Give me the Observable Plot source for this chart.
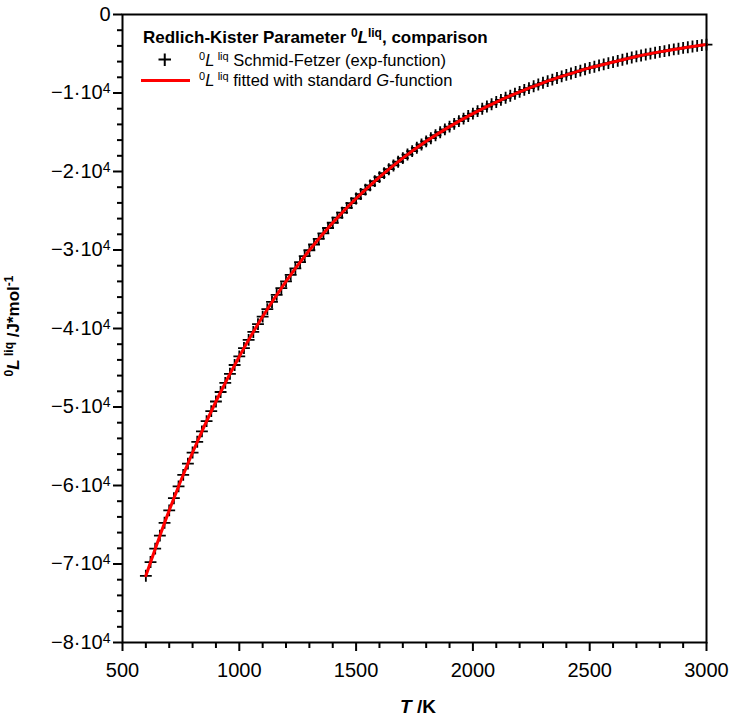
<!DOCTYPE html>
<html>
<head>
<meta charset="utf-8">
<script src="https://cdn.jsdelivr.net/npm/d3@7"></script>
<script src="https://cdn.jsdelivr.net/npm/@observablehq/plot@0.6"></script>
<style>
  html, body { margin: 0; padding: 0; background: #fff; }
  #chart { width: 729px; height: 716px; }
</style>
</head>
<body>
<div id="chart"></div>
<script>
// Temperatures of the Schmid-Fetzer (exp-function) points, K
const markerT = [
  600, 620, 640, 660, 680, 700, 720, 740, 760, 780,
  800, 820, 840, 860, 880, 900, 920, 940, 960, 980,
  1000, 1020, 1040, 1060, 1080, 1100, 1120, 1140, 1160, 1180,
  1200, 1220, 1240, 1260, 1280, 1300, 1320, 1340, 1360, 1380,
  1400, 1420, 1440, 1460, 1480, 1500, 1520, 1540, 1560, 1580,
  1600, 1620, 1640, 1660, 1680, 1700, 1720, 1740, 1760, 1780,
  1800, 1820, 1840, 1860, 1880, 1900, 1920, 1940, 1960, 1980,
  2000, 2020, 2040, 2060, 2080, 2100, 2120, 2140, 2160, 2180,
  2200, 2220, 2240, 2260, 2280, 2300, 2320, 2340, 2360, 2380,
  2400, 2420, 2440, 2460, 2480, 2500, 2520, 2540, 2560, 2580,
  2600, 2620, 2640, 2660, 2680, 2700, 2720, 2740, 2760, 2780,
  2800, 2820, 2840, 2860, 2880, 2900, 2920, 2940, 2960, 2980,
  3000
];
// 0L^liq values (J/mol), Schmid-Fetzer exp-function
const markerL = [
  -71500, -69750, -68040, -66380, -64750, -63170, -61620, -60120, -58640, -57210,
  -55800, -54430, -53100, -51800, -50530, -49300, -48090, -46920, -45770, -44650,
  -43560, -42490, -41450, -40440, -39450, -38480, -37540, -36620, -35720, -34850,
  -33990, -33160, -32350, -31550, -30780, -30030, -29300, -28580, -27880, -27200,
  -26530, -25880, -25250, -24630, -24030, -23440, -22870, -22310, -21760, -21230,
  -20710, -20200, -19710, -19230, -18760, -18290, -17840, -17410, -16980, -16560,
  -16160, -15760, -15380, -15000, -14640, -14280, -13930, -13590, -13260, -12930,
  -12620, -12310, -12010, -11720, -11430, -11150, -10880, -10610, -10350, -10100,
  -9850, -9610, -9370, -9140, -8920, -8700, -8490, -8290, -8090, -7890,
  -7700, -7510, -7330, -7150, -6970, -6800, -6650, -6490, -6350, -6200,
  -6060, -5910, -5760, -5620, -5480, -5340, -5220, -5100, -4980, -4870,
  -4760, -4660, -4550, -4450, -4360, -4260, -4170, -4080, -4000, -3910,
  -3830
];
// Fitted with standard G-function
const fitT = [600, 700, 800, 900, 1000, 1100, 1200, 1300, 1400, 1500, 1600, 1700, 1800,
  1900, 2000, 2100, 2200, 2300, 2400, 2500, 2600, 2700, 2800, 2900, 3000];
const fitL = [-71500, -63170, -55800, -49300, -43560, -38480, -33990, -30030, -26530,
  -23440, -20710, -18290, -16160, -14280, -12620, -11150, -9850, -8700, -7700, -6800,
  -6060, -5340, -4760, -4260, -3830];

// Tick values
const xMajorTicks = [500, 1000, 1500, 2000, 2500, 3000];
const xMinorTicks = [600, 700, 800, 900, 1100, 1200, 1300, 1400, 1600, 1700, 1800, 1900,
  2100, 2200, 2300, 2400, 2600, 2700, 2800, 2900];
const yMajorTicks = [0, -10000, -20000, -30000, -40000, -50000, -60000, -70000, -80000];
const yMinorTicks = [-2000, -4000, -6000, -8000, -12000, -14000, -16000, -18000,
  -22000, -24000, -26000, -28000, -32000, -34000, -36000, -38000,
  -42000, -44000, -46000, -48000, -52000, -54000, -56000, -58000,
  -62000, -64000, -66000, -68000, -72000, -74000, -76000, -78000];

const markers = markerT.map((t, i) => ({T: t, L: markerL[i]}));
const fit = fitT.map((t, i) => ({T: t, L: fitL[i]}));

const FONT = "'Liberation Sans', Arial, Helvetica, sans-serif";
// mantissa text; the "·10^4" part is rebuilt with a real superscript below
const yFmt = d => d === 0 ? "0" : "\u2212" + (-d / 1e4) + "\u00B710\u2074";

const plot = Plot.plot({
  width: 729,
  height: 716,
  marginLeft: 122,
  marginRight: 23,
  marginTop: 14,
  marginBottom: 74,
  style: {fontFamily: FONT, fontSize: "20px", background: "#fff", color: "#000"},
  x: {domain: [500, 3000]},
  y: {domain: [-80000, 0]},
  marks: [
    Plot.dot(markers, {x: "T", y: "L", symbol: "plus", r: 3.9, stroke: "#000", strokeWidth: 1.8}),
    Plot.line(fit, {x: "T", y: "L", stroke: "#ff0000", strokeWidth: 3, curve: "catmull-rom"}),
    Plot.axisX(xMinorTicks, {tickSize: 6, fill: "none", tickFormat: () => "", strokeWidth: 2, label: null}),
    Plot.axisX(xMajorTicks, {tickSize: 9, tickPadding: 11, strokeWidth: 2, label: null,
      fontSize: 20, tickFormat: d => String(d)}),
    Plot.axisY(yMinorTicks, {tickSize: 5, fill: "none", tickFormat: () => "", strokeWidth: 2, label: null}),
    Plot.axisY(yMajorTicks, {tickSize: 9, tickPadding: 3, strokeWidth: 2, label: null,
      fontSize: 20, tickFormat: yFmt}),
    Plot.frame({stroke: "#000", strokeWidth: 2})
  ]
});

document.getElementById("chart").appendChild(plot);

const svg = d3.select(plot);

// Rebuild y tick labels "−n·10⁴" with a true superscript
svg.selectAll("text").each(function() {
  const el = d3.select(this);
  const s = el.text();
  if (s.endsWith("\u2074")) {
    const base = s.slice(0, -1);
    el.text(null);
    el.append("tspan").text(base);
    el.append("tspan").attr("font-size", 14).attr("dy", "-0.45em").text("4");
  }
});

// rich text helper: parts = [{t, sup, it}]
function rich(g, x, y, parts, opts) {
  const text = g.append("text")
    .attr("x", x).attr("y", y)
    .attr("font-family", FONT)
    .attr("font-size", opts.size)
    .attr("font-weight", opts.bold ? "bold" : "normal")
    .attr("fill", "#000")
    .attr("text-anchor", opts.anchor || "start");
  if (opts.transform) text.attr("transform", opts.transform);
  let shifted = false;
  const shift = Math.round(opts.size * 0.38);
  parts.forEach(p => {
    const ts = text.append("tspan").text(p.t);
    if (p.sup && !shifted) { ts.attr("dy", -shift); shifted = true; }
    else if (!p.sup && shifted) { ts.attr("dy", shift); shifted = false; }
    if (p.sup) ts.attr("font-size", Math.round(opts.size * 0.68));
    if (p.it) ts.attr("font-style", "italic");
  });
  return text;
}

const g = svg.append("g");

// Legend title
rich(g, 143, 43, [
  {t: "Redlich-Kister Parameter "}, {t: "0", sup: true}, {t: "L", it: true},
  {t: "liq", sup: true}, {t: ", comparison"}
], {size: 17, bold: true});

// Legend: plus symbol
g.append("path")
  .attr("d", d3.line()([[158.5, 59.5], [171, 59.5]]) + d3.line()([[164.75, 53.5], [164.75, 66]]))
  .attr("stroke", "#000").attr("stroke-width", 2).attr("fill", "none");
rich(g, 199, 66, [
  {t: "0", sup: true}, {t: "L", it: true}, {t: "\u2009"}, {t: "liq", sup: true},
  {t: " Schmid-Fetzer (exp-function)"}
], {size: 16.5});

// Legend: red line
g.append("line")
  .attr("x1", 141).attr("x2", 190).attr("y1", 80.5).attr("y2", 80.5)
  .attr("stroke", "#ff0000").attr("stroke-width", 3);
rich(g, 199, 86, [
  {t: "0", sup: true}, {t: "L", it: true}, {t: "\u2009"}, {t: "liq", sup: true},
  {t: " fitted with standard "}, {t: "G", it: true}, {t: "-function"}
], {size: 16.5});

// X axis label
rich(g, 418, 713, [{t: "T", it: true}, {t: " /K"}], {size: 19, bold: true, anchor: "middle"});

// Y axis label (rotated)
rich(g, 0, 0, [
  {t: "0", sup: true}, {t: "L", it: true}, {t: "\u2009"}, {t: "liq", sup: true},
  {t: " /J*mol"}, {t: "-1", sup: true}
], {size: 17, bold: true, anchor: "middle", transform: "translate(19,326) rotate(-90)"});
</script>
</body>
</html>
